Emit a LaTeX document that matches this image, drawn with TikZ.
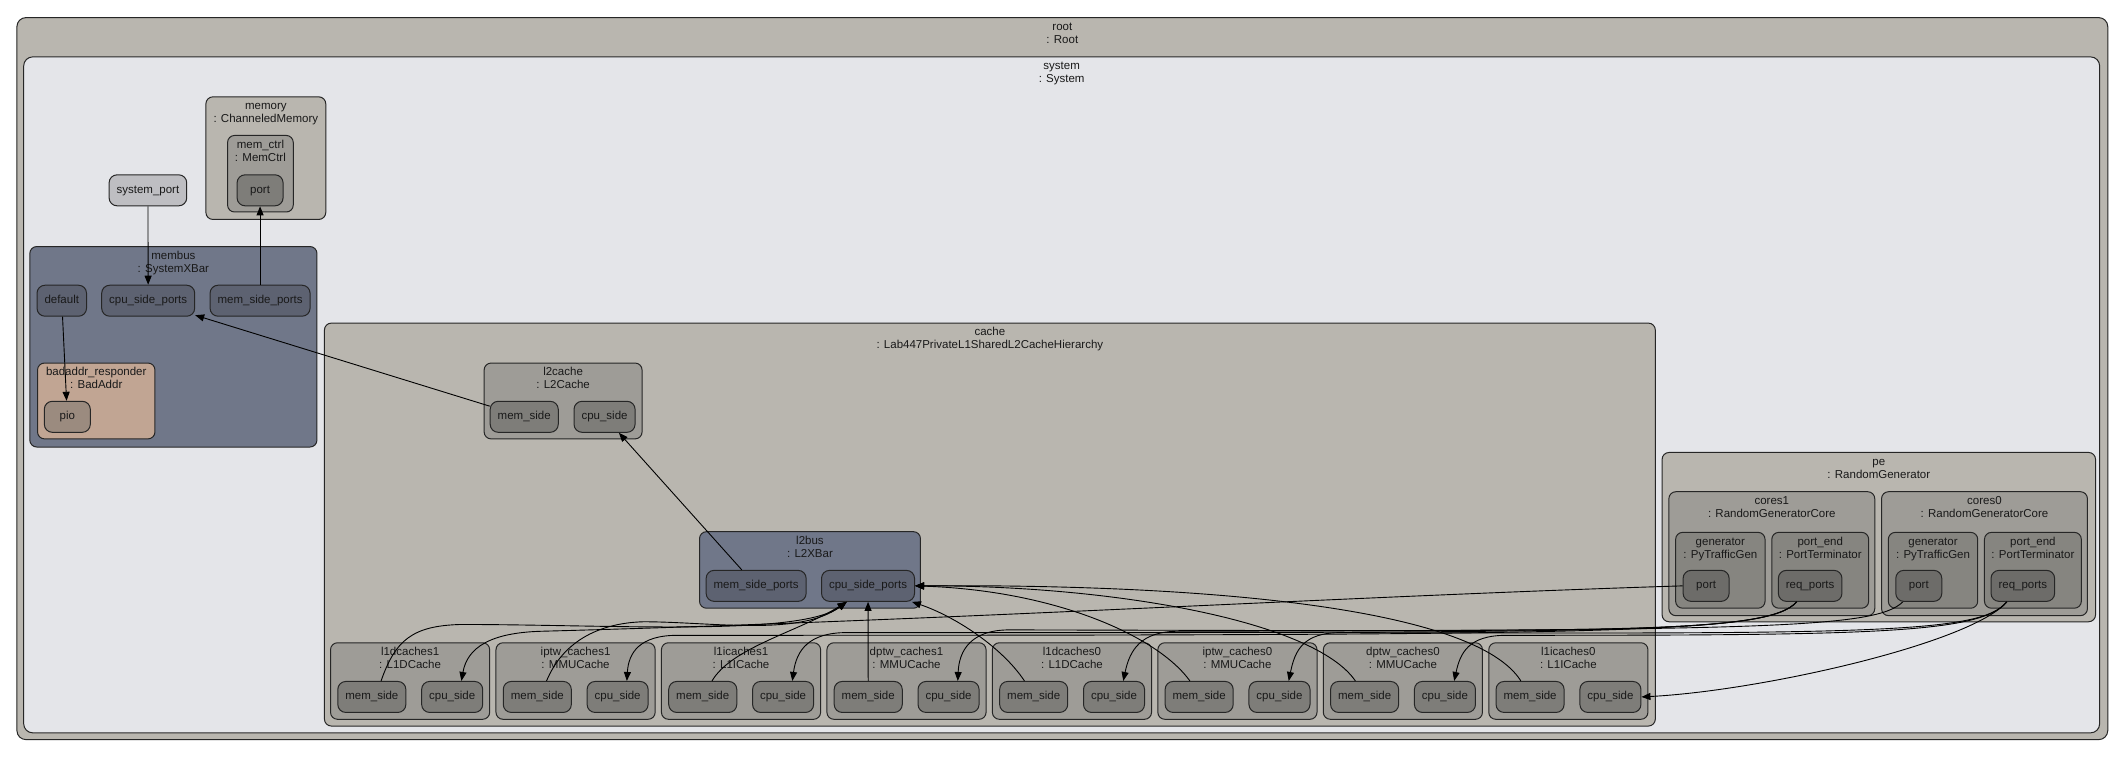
\documentclass[tikz,border=0pt]{standalone}
\usepackage{fontspec}
\setmainfont{Liberation Sans}
\usetikzlibrary{fit,arrows.meta}

\definecolor{rootfill}{HTML}{B9B6AF}
\definecolor{sysfill}{HTML}{E4E5E9}
\definecolor{subfill}{HTML}{9E9C97}
\definecolor{portfill}{HTML}{7E7D79}
\definecolor{busfill}{HTML}{707789}
\definecolor{busport}{HTML}{5D6271}
\definecolor{badfill}{HTML}{C1A593}
\definecolor{piofill}{HTML}{9B8B7F}
\definecolor{extfill}{HTML}{BEBEC2}
\definecolor{genfill}{HTML}{868580}
\definecolor{genport}{HTML}{6D6C69}

\newcommand{\boxname}[2]{\rule{0pt}{9pt}#1\\: #2}

\begin{document}
\begin{tikzpicture}[x=1.3546pt, y=-1.3546pt, >={Triangle[length=9pt,width=7pt]},
    box/.style={draw=black!85, line width=1pt, rounded corners=7pt, inner sep=0pt, fill=#1},
    title/.style={anchor=north, align=center, inner sep=0pt, yshift=-4pt},
    port/.style={draw=black!85, line width=1pt, rounded corners=8pt, fill=#1,
      minimum height=31pt, minimum width=46pt, inner xsep=7.5pt, inner ysep=0pt,
      text height=8.5pt, text depth=2.5pt},
    wire/.style={->, black, line width=0.9pt}]
  \tikzstyle{every node}=[font=\fontsize{11.5}{13}\selectfont, text=black!90]

  \fill[white] (0,0) rectangle (1568,565);
  \useasboundingbox (0,0) rectangle (1568,565);

  % root and system
  \node[box=rootfill, rounded corners=9pt, fit={(12.5,13) (1556,546)}] (root) {};
  \node[title] (root-t) at (root.north) {\boxname{root}{Root}};
  \node[box=sysfill, rounded corners=9pt, fit={(17.5,42) (1550,541)}] (system) {};
  \node[title] (system-t) at (system.north) {\boxname{system}{System}};

  % memory
  \node[box=rootfill, fit={(152,71.5) (240.5,162)}] (memory) {};
  \node[title] (memory-t) at (memory.north) {\boxname{memory}{ChanneledMemory}};
  \node[box=subfill, fit={(168,100) (216.5,156.5)}] (memctrl) {};
  \node[title] (memctrl-t) at (memctrl.north) {\boxname{mem\_ctrl}{MemCtrl}};
  \node[port=portfill] (memport) at (192,140.5) {port};

  \node[port=extfill] (sysport) at (109.2,140.5) {system\_port};

  % membus
  \node[box=busfill, fit={(22,182) (234,330)}] (membus) {};
  \node[title] (membus-t) at (membus.north) {\boxname{membus}{SystemXBar}};
  \node[port=busport] (mbdef) at (45.6,222) {default};
  \node[port=busport] (mbcpu) at (109.4,222) {cpu\_side\_ports};
  \node[port=busport] (mbmem) at (192,222) {mem\_side\_ports};
  \node[box=badfill, fit={(27.7,268) (114.4,324)}] (badaddr) {};
  \node[title] (badaddr-t) at (badaddr.north) {\boxname{badaddr\_responder}{BadAddr}};
  \node[port=piofill] (pio) at (49.7,307.7) {pio};

  % cache hierarchy
  \node[box=rootfill, fit={(239.5,238.5) (1222,536)}] (cache) {};
  \node[title] (cache-t) at (cache.north) {\boxname{cache}{Lab447PrivateL1SharedL2CacheHierarchy}};
  \node[box=subfill, fit={(357.4,268) (474,324)}] (l2cache) {};
  \node[title] (l2cache-t) at (l2cache.north) {\boxname{l2cache}{L2Cache}};
  \node[port=portfill] (l2mem) at (387,307.7) {mem\_side};
  \node[port=portfill] (l2cpu) at (446.3,307.7) {cpu\_side};
  \node[box=busfill, fit={(516.4,392.5) (679.5,449)}] (l2bus) {};
  \node[title] (l2bus-t) at (l2bus.north) {\boxname{l2bus}{L2XBar}};
  \node[port=busport] (l2bmem) at (558.2,432.5) {mem\_side\_ports};
  \node[port=busport] (l2bcpu) at (640.8,432.5) {cpu\_side\_ports};

  \foreach \i/\nm/\lbl/\typ in {0/l1d1/l1dcaches1/L1DCache, 1/iptw1/iptw\_caches1/MMUCache,
      2/l1i1/l1icaches1/L1ICache, 3/dptw1/dptw\_caches1/MMUCache, 4/l1d0/l1dcaches0/L1DCache,
      5/iptw0/iptw\_caches0/MMUCache, 6/dptw0/dptw\_caches0/MMUCache, 7/l1i0/l1icaches0/L1ICache}{
    \node[box=subfill, fit={(244+122.15*\i,474.5) (361.5+122.15*\i,531)}] (\nm) {};
    \node[title] (\nm-t) at (\nm.north) {\boxname{\lbl}{\typ}};
    \node[port=portfill] (\nm-mem) at (274.5+122.15*\i,514.5) {mem\_side};
    \node[port=portfill] (\nm-cpu) at (333.8+122.15*\i,514.5) {cpu\_side};
  }

  % traffic generator
  \node[box=rootfill, fit={(1227,334) (1547,459)}] (pe) {};
  \node[title] (pe-t) at (pe.north) {\boxname{pe}{RandomGenerator}};
  \foreach \c/\x in {1/1232, 0/1389}{
    \node[box=subfill, fit={(\x,363) (\x+152,454.5)}] (c\c) {};
    \node[title] (c\c-t) at (c\c.north) {\boxname{cores\c}{RandomGeneratorCore}};
    \node[box=genfill, fit={(\x+5,393) (\x+71,449)}] (c\c-gen) {};
    \node[title] (c\c-gen-t) at (c\c-gen.north) {\boxname{generator}{PyTrafficGen}};
    \node[box=genfill, fit={(\x+76,393) (\x+147.5,449)}] (c\c-end) {};
    \node[title] (c\c-end-t) at (c\c-end.north) {\boxname{port\_end}{PortTerminator}};
    \node[port=genport] (c\c-port) at (\x+27.5,432.5) {port};
    \node[port=genport] (c\c-req) at (\x+104.3,432.5) {req\_ports};
  }

  % connections
  \path[wire] (sysport) edge (mbcpu)
              (mbmem) edge (memport)
              (mbdef) edge (pio)
              (l2mem) edge (mbcpu)
              (l2bmem) edge (l2cpu)
              (dptw1-mem) edge (l2bcpu);

  \draw[wire] (l1d1-mem.60) .. controls (292,472) and (305,462) .. (340,461)
      .. controls (450,461) and (590,470) .. (l2bcpu.-143);
  \draw[wire] (iptw1-mem.60) .. controls (415,475) and (440,460) .. (475,459)
      .. controls (525,459) and (590,470) .. (l2bcpu.-143);
  \draw[wire] (l1i1-mem.60) .. controls (540,478) and (590,466) .. (l2bcpu.-143);
  \draw[wire] (l1d0-mem.120) .. controls (740,478) and (705,455) .. (l2bcpu.-20);
  \draw[wire] (iptw0-mem.120) .. controls (855,470) and (780,436) .. (l2bcpu.east);
  \draw[wire] (dptw0-mem.120) .. controls (970,458) and (820,432) .. (l2bcpu.east);
  \draw[wire] (l1i0-mem.120) .. controls (1090,450) and (900,431) .. (l2bcpu.east);

  \draw[wire] (c1-port.west) .. controls (1000,440) and (700,458) .. (400,466)
      .. controls (362,467) and (345,478) .. (l1d1-cpu.60);
  \draw[wire] (c1-req.-130) .. controls (1305,468) and (1200,466) .. (745,465)
      .. controls (717,465) and (708,480) .. (dptw1-cpu.60);
  \draw[wire] (c1-req.-130) .. controls (1305,468) and (1200,467) .. (625,467)
      .. controls (597,467) and (588,480) .. (l1i1-cpu.60);
  \draw[wire] (c1-req.-130) .. controls (1305,468) and (1200,469) .. (500,469)
      .. controls (472,469) and (464,482) .. (iptw1-cpu.60);
  \draw[wire] (c0-port.-135) .. controls (1385,464) and (1300,465) .. (870,466)
      .. controls (842,466) and (834,480) .. (l1d0-cpu.60);
  \draw[wire] (c0-req.-135) .. controls (1462,468) and (1380,468) .. (990,467)
      .. controls (962,467) and (956,480) .. (iptw0-cpu.60);
  \draw[wire] (c0-req.-135) .. controls (1462,468) and (1380,469) .. (1112,469)
      .. controls (1084,469) and (1078,482) .. (dptw0-cpu.60);
  \draw[wire] (c0-req.-135) .. controls (1455,475) and (1300,510) .. (l1i0-cpu.east);

\end{tikzpicture}
\end{document}
